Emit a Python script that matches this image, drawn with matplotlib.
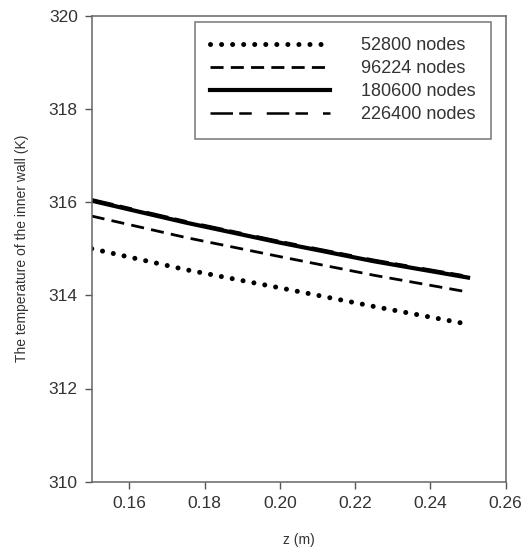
import numpy as np
import matplotlib
matplotlib.use("Agg")
import matplotlib.pyplot as plt

plt.rcParams['font.family'] = ['Liberation Sans', 'DejaVu Sans']

# values
z = [0.15, 0.175, 0.20, 0.225, 0.25]
t_52800 = [315.00, 314.55, 314.16, 313.76, 313.38]
t_96224 = [315.70, 315.24, 314.83, 314.43, 314.07]
t_180600 = [316.03, 315.56, 315.13, 314.73, 314.38]
t_226400 = [316.06, 315.59, 315.16, 314.76, 314.41]
labels = ['52800 nodes', '96224 nodes', '180600 nodes', '226400 nodes']

W, H = 527, 551
fig = plt.figure(figsize=(W / 100, H / 100), dpi=100)
ax = fig.add_axes([91.7 / W, 1 - 481.7 / H, (505.7 - 91.7) / W, (481.7 - 15.7) / H])

ax.plot(z, t_52800, color='black', lw=3.6, dash_capstyle='round',
        linestyle=(0, (0.01, 2.2)), label=labels[0])
ax.plot(z, t_96224, color='black', lw=2.0, linestyle=(0, (4.7, 2.6)), label=labels[1])
ax.plot(z, t_180600, color='black', lw=3.0, label=labels[2])
ax.plot(z, t_226400, color='black', lw=1.8,
        linestyle=(0, (9, 2.5, 5, 6)), label=labels[3])

ax.set_xlim(0.15, 0.26)
ax.set_ylim(310, 320)
ax.set_xticks([0.16, 0.18, 0.20, 0.22, 0.24, 0.26])
ax.set_xticklabels(['0.16', '0.18', '0.20', '0.22', '0.24', '0.26'])
ax.set_yticks([310, 312, 314, 316, 318, 320])
ax.tick_params(direction='out', length=5, width=1, colors='#555555',
               labelsize=12.5, labelcolor='#333333', pad=5)
for s in ax.spines.values():
    s.set_color('#666666')
    s.set_linewidth(1.1)

ax.set_xlabel('z (m)', fontsize=10, color='#333333', labelpad=16)
ax.set_ylabel('The temperature of the inner wall (K)', fontsize=10,
              color='#333333', labelpad=14)

leg = ax.legend(loc='upper left', bbox_to_anchor=((195 - 91.7) / 414, 1 - (22 - 15.7) / 466),
                fontsize=13, handlelength=6.6, handletextpad=1.75, labelspacing=0.33,
                frameon=True, fancybox=False, borderpad=0.85, borderaxespad=0)
leg.get_frame().set_edgecolor('#555555')
leg.get_frame().set_linewidth(1.1)
for t in leg.get_texts():
    t.set_color('#333333')

fig.savefig('out.png', dpi=100)
